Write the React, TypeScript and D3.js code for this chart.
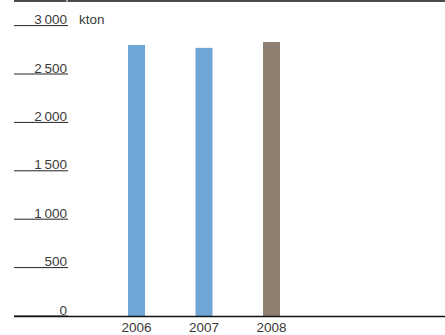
import React from "react";
import * as d3 from "d3";

const years = ["2006", "2007", "2008"];
const values = [2800, 2770, 2830];
const barColors = ["#6fa6d6", "#6fa6d6", "#8c7f70"];
const yTicks = [0, 500, 1000, 1500, 2000, 2500, 3000];
const unitLabel = "kton";

const W = 445;
const H = 335;

export default function App() {
  const y = d3.scaleLinear().domain([0, 3000]).range([316, 25.6]);
  const x = d3.scalePoint<string>().domain(years).range([136.5, 271.5]);
  const barW = 17;
  const fmt = (v: number) => d3.format(",")(v).replace(/,/g, "\u2009");
  const font = "'Liberation Sans', Arial, sans-serif";

  return (
    <svg
      width={W}
      height={H}
      style={{ position: "absolute", left: 0, top: 0 }}
      fontFamily={font}
    >
      <rect width={W} height={H} fill="#fff" />
      <line x1={14} x2={66.5} y1={1} y2={1} stroke="#111" strokeWidth={1.6} />
      <line x1={67.5} x2={W} y1={1} y2={1} stroke="#111" strokeWidth={1.6} />
      {yTicks.map((t) => (
        <g key={t}>
          <line x1={14} x2={68} y1={y(t)} y2={y(t)} stroke="#222" strokeWidth={1} />
          <text
            x={67}
            y={y(t) - 1.5}
            textAnchor="end"
            fontSize={13.5}
            fill="#3a3a3a"
          >
            {fmt(t)}
          </text>
        </g>
      ))}
      <text x={79} y={y(3000) - 1.5} fontSize={13.5} fill="#3a3a3a">
        {unitLabel}
      </text>
      {years.map((yr, i) => (
        <rect
          key={yr}
          x={(x(yr) as number) - barW / 2}
          y={y(values[i])}
          width={barW}
          height={y(0) - y(values[i])}
          fill={barColors[i]}
        />
      ))}
      <line x1={14} x2={W} y1={316.5} y2={316.5} stroke="#111" strokeWidth={1.5} />
      {years.map((yr) => (
        <text
          key={yr}
          x={x(yr) as number}
          y={331.5}
          textAnchor="middle"
          fontSize={13.5}
          fill="#3a3a3a"
        >
          {yr}
        </text>
      ))}
    </svg>
  );
}
